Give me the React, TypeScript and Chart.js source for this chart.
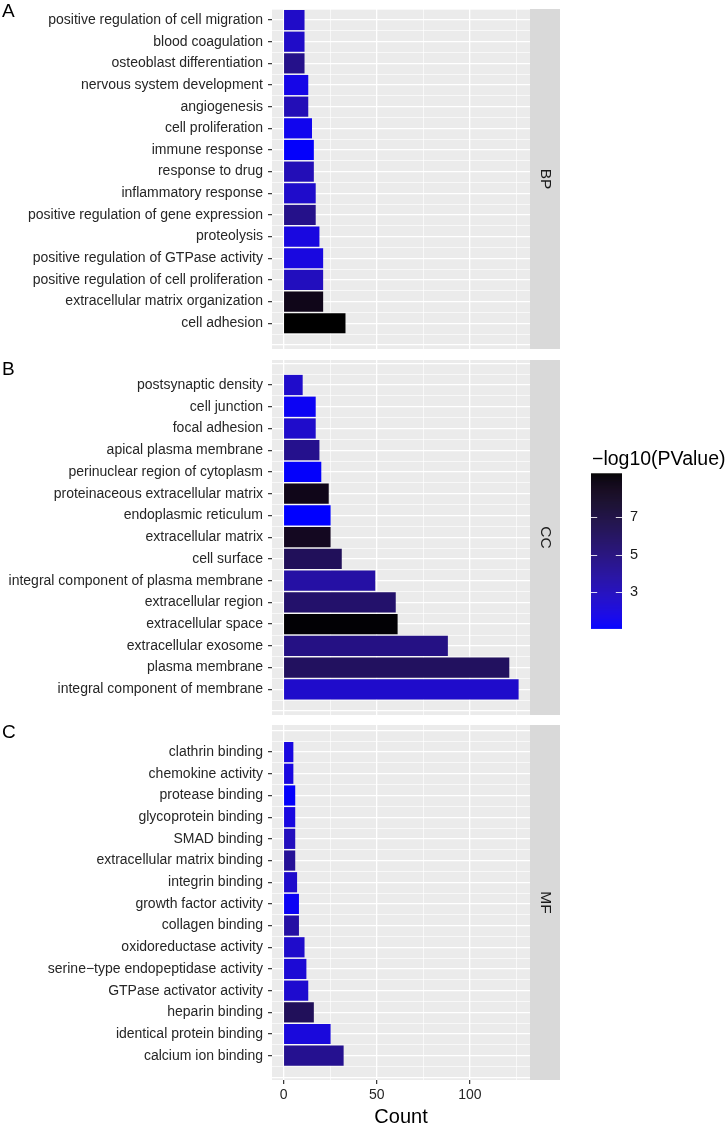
import React, { useEffect, useRef } from 'react';
import { Chart, registerables } from 'chart.js';

Chart.register(...registerables);

// ---------------- DATA ----------------
const bpTerms = [
  'positive regulation of cell migration',
  'blood coagulation',
  'osteoblast differentiation',
  'nervous system development',
  'angiogenesis',
  'cell proliferation',
  'immune response',
  'response to drug',
  'inflammatory response',
  'positive regulation of gene expression',
  'proteolysis',
  'positive regulation of GTPase activity',
  'positive regulation of cell proliferation',
  'extracellular matrix organization',
  'cell adhesion',
];
const bpCounts = [11, 11, 11, 13, 13, 15, 16, 16, 17, 17, 19, 21, 21, 21, 33];
const bpLogP = [2.7, 2.7, 4.6, 1.8, 3.2, 1.6, 1.2, 3.2, 2.6, 4.6, 2.0, 2.0, 3.0, 8.6, 9.3];

const ccTerms = [
  'postsynaptic density',
  'cell junction',
  'focal adhesion',
  'apical plasma membrane',
  'perinuclear region of cytoplasm',
  'proteinaceous extracellular matrix',
  'endoplasmic reticulum',
  'extracellular matrix',
  'cell surface',
  'integral component of plasma membrane',
  'extracellular region',
  'extracellular space',
  'extracellular exosome',
  'plasma membrane',
  'integral component of membrane',
];
const ccCounts = [10, 17, 17, 19, 20, 24, 25, 25, 31, 49, 60, 61, 88, 121, 126];
const ccLogP = [2.6, 1.4, 2.6, 4.5, 1.2, 8.6, 1.1, 8.3, 6.2, 3.8, 5.6, 9.2, 4.8, 6.0, 2.6];

const mfTerms = [
  'clathrin binding',
  'chemokine activity',
  'protease binding',
  'glycoprotein binding',
  'SMAD binding',
  'extracellular matrix binding',
  'integrin binding',
  'growth factor activity',
  'collagen binding',
  'oxidoreductase activity',
  'serine\u2212type endopeptidase activity',
  'GTPase activator activity',
  'heparin binding',
  'identical protein binding',
  'calcium ion binding',
];
const mfCounts = [5, 5, 6, 6, 6, 6, 7, 8, 8, 11, 12, 13, 16, 25, 32];
const mfLogP = [2.0, 2.0, 1.2, 2.0, 3.0, 4.2, 2.6, 1.4, 3.8, 2.6, 2.3, 2.5, 6.2, 2.1, 4.4];

const xTickValues = [0, 25, 50, 75, 100, 125];
const xTickLabels = ['0', '', '50', '', '100', ''];
const legendTickValues = [3, 5, 7];
const legendTitle = '\u2212log10(PValue)';
const xTitle = 'Count';
const panelTags = ['A', 'B', 'C'];
const stripLabels = ['BP', 'CC', 'MF'];

// ---------------- COLOUR SCALE (Lab interpolation, blue -> black) ----------------
const allLogP = [...bpLogP, ...ccLogP, ...mfLogP];
const lo = Math.min(...allLogP);
const hi = Math.max(...allLogP);

function toLin(c: number) {
  c /= 255;
  return c <= 0.04045 ? c / 12.92 : Math.pow((c + 0.055) / 1.055, 2.4);
}
function toSrgb(c: number) {
  c = Math.max(0, Math.min(1, c));
  const v = c <= 0.0031308 ? 12.92 * c : 1.055 * Math.pow(c, 1 / 2.4) - 0.055;
  return Math.round(Math.max(0, Math.min(1, v)) * 255);
}
const D = 6 / 29;
function fl(t: number) {
  return t > D * D * D ? Math.cbrt(t) : t / (3 * D * D) + 4 / 29;
}
function finv(t: number) {
  return t > D ? t * t * t : 3 * D * D * (t - 4 / 29);
}
const Xn = 0.95047, Yn = 1.0, Zn = 1.08883;
function rgbToLab(r: number, g: number, b: number) {
  const R = toLin(r), G = toLin(g), B = toLin(b);
  const X = 0.4124 * R + 0.3576 * G + 0.1805 * B;
  const Y = 0.2126 * R + 0.7152 * G + 0.0722 * B;
  const Z = 0.0193 * R + 0.1192 * G + 0.9505 * B;
  const fx = fl(X / Xn), fy = fl(Y / Yn), fz = fl(Z / Zn);
  return [116 * fy - 16, 500 * (fx - fy), 200 * (fy - fz)];
}
function labToRgb(L: number, a: number, b: number) {
  const fy = (L + 16) / 116;
  const fx = fy + a / 500;
  const fz = fy - b / 200;
  const X = Xn * finv(fx), Y = Yn * finv(fy), Z = Zn * finv(fz);
  const R = 3.2406 * X - 1.5372 * Y - 0.4986 * Z;
  const G = -0.9689 * X + 1.8758 * Y + 0.0415 * Z;
  const B = 0.0557 * X - 0.204 * Y + 1.057 * Z;
  return `rgb(${toSrgb(R)},${toSrgb(G)},${toSrgb(B)})`;
}
const labLow = rgbToLab(0, 0, 255);
const labHigh = rgbToLab(0, 0, 0);
function colorFor(v: number) {
  const t = Math.max(0, Math.min(1, (v - lo) / (hi - lo)));
  return labToRgb(
    labLow[0] + (labHigh[0] - labLow[0]) * t,
    labLow[1] + (labHigh[1] - labLow[1]) * t,
    labLow[2] + (labHigh[2] - labLow[2]) * t
  );
}

// ---------------- LAYOUT ----------------
const FONT = "'Liberation Sans', Arial, Helvetica, sans-serif";
const W = 725;
const PLOT_LEFT = 272;
const PLOT_RIGHT = 530;
const STRIP_W = 30;
const allCounts = [...bpCounts, ...ccCounts, ...mfCounts];
const cMax = Math.max(...allCounts);
const X_MIN = -0.05 * cMax;
const X_MAX = 1.05 * cMax;

type PanelCfg = {
  terms: string[];
  counts: number[];
  logp: number[];
  tag: string;
  strip: string;
  top: number;
  height: number;
  padTop: number;
  padBottom: number;
  xAxisH: number;
  yMin: number;
  yMax: number;
  showX: boolean;
  legend: boolean;
};

const panels: PanelCfg[] = [
  { terms: bpTerms, counts: bpCounts, logp: bpLogP, tag: panelTags[0], strip: stripLabels[0], top: 0, height: 355, padTop: 9, padBottom: 6, xAxisH: 0, yMin: -0.51, yMax: 15.19, showX: false, legend: false },
  { terms: ccTerms, counts: ccCounts, logp: ccLogP, tag: panelTags[1], strip: stripLabels[1], top: 355, height: 365, padTop: 5, padBottom: 5, xAxisH: 0, yMin: -1.15, yMax: 15.18, showX: false, legend: true },
  { terms: mfTerms, counts: mfCounts, logp: mfLogP, tag: panelTags[2], strip: stripLabels[2], top: 718, height: 412, padTop: 7, padBottom: 0, xAxisH: 50, yMin: -1.25, yMax: 15.12, showX: true, legend: false },
];

function Panel({ cfg }: { cfg: PanelCfg }) {
  const ref = useRef<HTMLCanvasElement>(null);
  useEffect(() => {
    if (!ref.current) return;
    const plotH = cfg.height - cfg.padTop - cfg.padBottom - cfg.xAxisH;
    const pitch = plotH / (cfg.yMax - cfg.yMin);
    const isMajorY = (v: number) => Number.isInteger(v) && v >= 0 && v < cfg.terms.length;

    const deco = {
      id: 'deco',
      beforeDraw(chart: any) {
        const { ctx, chartArea } = chart;
        ctx.save();
        ctx.fillStyle = '#EBEBEB';
        ctx.fillRect(chartArea.left, chartArea.top, chartArea.right - chartArea.left, chartArea.bottom - chartArea.top);
        ctx.restore();
      },
      afterDraw(chart: any) {
        const { ctx, chartArea } = chart;
        ctx.save();
        // strip
        ctx.fillStyle = '#D9D9D9';
        ctx.fillRect(chartArea.right, chartArea.top, STRIP_W, chartArea.bottom - chartArea.top);
        ctx.translate(chartArea.right + STRIP_W / 2, (chartArea.top + chartArea.bottom) / 2);
        ctx.rotate(Math.PI / 2);
        ctx.fillStyle = '#1A1A1A';
        ctx.font = `15.5px ${FONT}`;
        ctx.textAlign = 'center';
        ctx.textBaseline = 'middle';
        ctx.fillText(cfg.strip, 0, 0);
        ctx.restore();

        // tag letter
        ctx.save();
        ctx.fillStyle = '#000';
        ctx.font = `19px ${FONT}`;
        ctx.textAlign = 'left';
        ctx.textBaseline = 'middle';
        ctx.fillText(cfg.tag, 2, cfg.top === 0 ? 12 : 15);
        ctx.restore();

        if (cfg.showX) {
          ctx.save();
          ctx.fillStyle = '#000';
          ctx.font = `20px ${FONT}`;
          ctx.textAlign = 'center';
          ctx.textBaseline = 'middle';
          ctx.fillText(xTitle, (chartArea.left + chartArea.right) / 2, 1117 - cfg.top);
          ctx.restore();
        }

        if (cfg.legend) {
          ctx.save();
          const barX = 591, barW = 31;
          const barTop = 473.3 - cfg.top, barBot = 628.3 - cfg.top;
          const barH = barBot - barTop;
          ctx.fillStyle = '#000';
          ctx.font = `19.5px ${FONT}`;
          ctx.textAlign = 'left';
          ctx.textBaseline = 'middle';
          ctx.fillText(legendTitle, 592, 460 - cfg.top);
          const N = Math.ceil(barH);
          for (let i = 0; i < N; i++) {
            const v = hi - ((hi - lo) * (i + 0.5)) / N;
            ctx.fillStyle = colorFor(v);
            ctx.fillRect(barX, barTop + (barH * i) / N, barW, barH / N + 0.6);
          }
          ctx.strokeStyle = 'rgba(255,255,255,0.85)';
          ctx.lineWidth = 1;
          ctx.font = `14.5px ${FONT}`;
          ctx.fillStyle = '#1A1A1A';
          legendTickValues.forEach((v) => {
            const y = barBot - ((v - lo) / (hi - lo)) * barH;
            const yy = Math.round(y) + 0.5;
            ctx.beginPath();
            ctx.moveTo(barX, yy);
            ctx.lineTo(barX + barW / 5, yy);
            ctx.moveTo(barX + barW - barW / 5, yy);
            ctx.lineTo(barX + barW, yy);
            ctx.stroke();
            ctx.fillText(String(v), 630, y);
          });
          ctx.restore();
        }
      },
    };

    const chart = new Chart(ref.current, {
      type: 'bar',
      data: {
        datasets: [
          {
            data: cfg.counts.map((c, i) => ({ x: c, y: i })),
            backgroundColor: cfg.logp.map(colorFor),
            borderWidth: 0,
            barThickness: pitch * 0.9,
          } as any,
        ],
      },
      options: {
        animation: false,
        responsive: false,
        maintainAspectRatio: false,
        indexAxis: 'y',
        layout: { padding: { left: 0, right: W - PLOT_RIGHT, top: cfg.padTop, bottom: cfg.padBottom } },
        plugins: { legend: { display: false }, tooltip: { enabled: false }, title: { display: false } },
        scales: {
          x: {
            type: 'linear',
            position: 'bottom',
            min: X_MIN,
            max: X_MAX,
            offset: false,
            afterBuildTicks: (s: any) => {
              s.ticks = xTickValues.map((v) => ({ value: v }));
            },
            afterFit: (s: any) => {
              s.height = cfg.xAxisH;
              s.paddingLeft = 0;
              s.paddingRight = 0;
            },
            border: { display: false },
            grid: {
              offset: false,
              color: '#FFFFFF',
              lineWidth: (ctx: any) => (xTickLabels[xTickValues.indexOf(ctx.tick?.value)] ? 1.3 : 0.65),
              drawTicks: cfg.showX,
              tickLength: 4,
              tickWidth: 1.2,
              tickColor: (ctx: any) => (xTickLabels[xTickValues.indexOf(ctx.tick?.value)] ? '#333333' : 'rgba(0,0,0,0)'),
            },
            ticks: {
              display: cfg.showX,
              autoSkip: false,
              maxRotation: 0,
              padding: 3,
              color: '#262626',
              font: { family: FONT, size: 14 },
              callback: (v: any) => xTickLabels[xTickValues.indexOf(v)] ?? '',
            },
          },
          y: {
            type: 'linear',
            reverse: true,
            min: cfg.yMin,
            max: cfg.yMax,
            offset: false,
            afterBuildTicks: (s: any) => {
              const t: any[] = [];
              for (let k = -4; k <= 40; k++) {
                const v = k / 2;
                if (v >= cfg.yMin && v <= cfg.yMax) t.push({ value: v });
              }
              s.ticks = t;
            },
            afterFit: (s: any) => {
              s.width = PLOT_LEFT;
              s.paddingTop = 0;
              s.paddingBottom = 0;
            },
            border: { display: false },
            grid: {
              offset: false,
              color: '#FFFFFF',
              lineWidth: (ctx: any) => (Number.isInteger(ctx.tick?.value) ? 1.3 : 0.65),
              drawTicks: true,
              tickLength: 4,
              tickWidth: 1.2,
              tickColor: (ctx: any) => (isMajorY(ctx.tick?.value) ? '#333333' : 'rgba(0,0,0,0)'),
            },
            ticks: {
              autoSkip: false,
              padding: 5,
              color: '#262626',
              font: { family: FONT, size: 14 },
              callback: (v: any) => (isMajorY(v) ? cfg.terms[v] : ''),
            },
          },
        },
      },
      plugins: [deco],
    } as any);
    return () => chart.destroy();
  }, [cfg]);
  return (
    <canvas
      ref={ref}
      width={W}
      height={cfg.height}
      style={{ position: 'absolute', left: 0, top: cfg.top, width: W, height: cfg.height, display: 'block' }}
    />
  );
}

export default function App() {
  return (
    <div style={{ position: 'absolute', left: 0, top: 0, width: W, height: 1130, background: '#fff', overflow: 'hidden' }}>
      {panels.map((p) => (
        <Panel key={p.tag} cfg={p} />
      ))}
    </div>
  );
}
